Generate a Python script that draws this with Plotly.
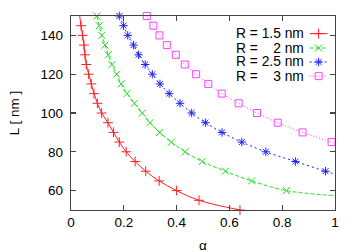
import plotly.graph_objects as go

# ---------------- data ----------------
L_red = [145, 140, 135, 130, 125, 120, 115, 110, 105, 100, 95, 90, 85, 80, 75, 70, 65, 60, 55, 50]
a_red = [0.038, 0.044, 0.049, 0.053, 0.058, 0.067, 0.077, 0.087, 0.100, 0.116, 0.140, 0.161,
         0.183, 0.209, 0.243, 0.283, 0.334, 0.400, 0.485, 0.640]
L_red_line = [150] + L_red
a_red_line = [0.033] + a_red

L_green = [150, 145, 140, 135, 130, 125, 120, 115, 110, 105, 100, 95, 90, 85, 80, 75, 70, 65, 60]
a_green = [0.098, 0.107, 0.117, 0.129, 0.141, 0.155, 0.173, 0.190, 0.212, 0.240, 0.270, 0.299,
           0.336, 0.380, 0.432, 0.497, 0.585, 0.684, 0.816]
L_green_line = L_green + [57.4]
a_green_line = a_green + [1.0]

L_blue = [150, 145, 140, 135, 130, 125, 120, 115, 110, 105, 100, 95, 90, 85, 80, 75, 70]
a_blue = [0.183, 0.199, 0.215, 0.237, 0.256, 0.281, 0.308, 0.337, 0.372, 0.413, 0.457, 0.509,
          0.572, 0.647, 0.738, 0.850, 0.964]
L_blue_line = L_blue + [68.5]
a_blue_line = a_blue + [1.0]

L_mag = [150, 145, 140, 135, 130, 125, 120, 115, 110, 105, 100, 95, 90, 85]
a_mag = [0.287, 0.312, 0.335, 0.363, 0.397, 0.431, 0.474, 0.520, 0.571, 0.635, 0.705, 0.783,
         0.877, 0.987]
L_mag_line = L_mag + [84.3]
a_mag_line = a_mag + [1.0]

series_names = ["R = 1.5 nm", "R =\u00a0\u00a0\u00a0\u00a02 nm", "R = 2.5 nm", "R =\u00a0\u00a0\u00a0\u00a03 nm"]

x_ticks = [0, 0.2, 0.4, 0.6, 0.8, 1]
x_tick_labels = ["0", "0.2", "0.4", "0.6", "0.8", "1"]
y_ticks = [60, 80, 100, 120, 140]
y_tick_labels = ["60", "80", "100", "120", "140"]
x_title = "α"
y_title = "L [ nm ]"

# ---------------- styles ----------------
FONT = "Liberation Sans, Arial, sans-serif"
FS = 13.5
LEG_FS = 13.8
X_RANGE = [0, 1]
Y_RANGE = [50, 150]

styles = [
    dict(color="#ff2020", dash="solid", symbol="cross-thin-open", size=7),
    dict(color="#22dd22", dash="4px,2px", symbol="x-thin-open", size=7),
    dict(color="#2020ff", dash="2px,3px", symbol="asterisk-open", size=7),
    dict(color="#ff44ff", dash="1px,2px", symbol="square-open", size=7),
]

data = [
    (a_red, L_red, a_red_line, L_red_line),
    (a_green, L_green, a_green_line, L_green_line),
    (a_blue, L_blue, a_blue_line, L_blue_line),
    (a_mag, L_mag, a_mag_line, L_mag_line),
]

fig = go.Figure()
for (ax, ly, axl, lyl), st in zip(data, styles):
    fig.add_trace(go.Scatter(x=axl, y=lyl, mode="lines", line_shape="spline",
                             line=dict(color=st["color"], width=1, dash=st["dash"]),
                             showlegend=False, hoverinfo="skip"))
    fig.add_trace(go.Scatter(x=ax, y=ly, mode="markers",
                             marker=dict(symbol=st["symbol"], size=st["size"],
                                         color=st["color"], line=dict(color=st["color"], width=1)),
                             showlegend=False, cliponaxis=False))

# ---------------- legend (text left, key right) ----------------
KEY_X0, KEY_XM, KEY_X1 = 0.904, 0.938, 0.972   # paper fractions of the plot area
ROW_Y = [0.909, 0.835, 0.763, 0.690]
TEXT_X = 0.886

def px(f):
    return X_RANGE[0] + f * (X_RANGE[1] - X_RANGE[0])

def py(f):
    return Y_RANGE[0] + f * (Y_RANGE[1] - Y_RANGE[0])

annotations = []
for name, st, ry in zip(series_names, styles, ROW_Y):
    fig.add_trace(go.Scatter(x=[px(KEY_X0), px(KEY_X1)], y=[py(ry), py(ry)], mode="lines",
                             line=dict(color=st["color"], width=1, dash=st["dash"]),
                             showlegend=False, hoverinfo="skip"))
    fig.add_trace(go.Scatter(x=[px(KEY_XM)], y=[py(ry)], mode="markers",
                             marker=dict(symbol=st["symbol"], size=st["size"],
                                         color=st["color"], line=dict(color=st["color"], width=1)),
                             showlegend=False, hoverinfo="skip"))
    annotations.append(dict(x=TEXT_X, y=ry, xref="paper", yref="paper", text=name,
                            showarrow=False, xanchor="right", yanchor="middle",
                            height=13, borderpad=0,
                            font=dict(family=FONT, size=LEG_FS, color="#000")))

# x-axis title placed as an annotation so it can sit low in the bottom margin
annotations.append(dict(x=0.5, y=-0.183, xref="paper", yref="paper", text=x_title,
                        showarrow=False, xanchor="center", yanchor="middle",
                        font=dict(family=FONT, size=FS, color="#000")))

axis_common = dict(showline=True, linecolor="#444", linewidth=1.2, mirror="allticks",
                   ticks="inside", ticklen=5, tickcolor="#444", tickwidth=1.2,
                   showgrid=False, zeroline=False, automargin=False,
                   tickfont=dict(family=FONT, size=FS, color="#000"))

fig.update_layout(
    width=359, height=252,
    margin=dict(l=71, r=24, t=16, b=42),
    paper_bgcolor="white", plot_bgcolor="white",
    showlegend=False,
    annotations=annotations,
    xaxis=dict(range=X_RANGE, tickvals=x_ticks, ticktext=x_tick_labels, **axis_common),
    yaxis=dict(range=Y_RANGE, tickvals=y_ticks, ticktext=y_tick_labels, ticklabelstandoff=4,
               title=dict(text=y_title, font=dict(family=FONT, size=FS, color="#000"), standoff=17),
               **axis_common),
)

fig.write_html("out.html", config={"displayModeBar": False, "staticPlot": True},
               post_script="document.body.style.margin='0';document.body.style.overflow='hidden';")
